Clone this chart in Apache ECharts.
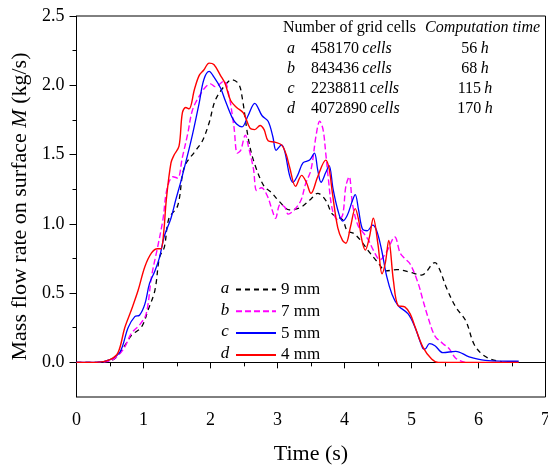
<!DOCTYPE html>
<html>
<head>
<meta charset="utf-8">
<script src="https://cdn.jsdelivr.net/npm/echarts@6/dist/echarts.min.js"></script>
<style>
  html, body { margin: 0; padding: 0; background: #fff; }
  #chart { width: 548px; height: 467px; }
</style>
</head>
<body>
<div id="chart"></div>
<script>
// a - 9 mm
const timeA = [0, 0.3, 0.5, 0.6, 0.72, 0.82, 0.97, 1.07, 1.17, 1.24, 1.31, 1.38, 1.51, 1.61, 1.78, 1.88, 1.98, 2.07, 2.2, 2.32, 2.42, 2.47, 2.57, 2.66, 2.8, 2.9, 3.03, 3.18, 3.35, 3.5, 3.6, 3.72, 3.82, 3.97, 4.04, 4.14, 4.24, 4.38, 4.5, 4.62, 4.78, 4.98, 5.15, 5.35, 5.42, 5.52, 5.66, 5.81, 5.93, 6.05, 6.2, 6.35];
const flowA = [0, 0, 0.01, 0.04, 0.12, 0.195, 0.255, 0.38, 0.52, 0.76, 0.83, 1.04, 1.13, 1.41, 1.53, 1.60, 1.73, 1.89, 1.99, 2.04, 2.01, 1.92, 1.60, 1.43, 1.27, 1.23, 1.16, 1.10, 1.12, 1.18, 1.22, 1.17, 1.07, 1.03, 0.95, 0.93, 0.88, 0.79, 0.72, 0.66, 0.67, 0.65, 0.63, 0.72, 0.67, 0.54, 0.40, 0.30, 0.135, 0.06, 0.02, 0.005];

// b - 7 mm
const timeB = [0, 0.3, 0.5, 0.6, 0.72, 0.82, 0.94, 1.04, 1.12, 1.21, 1.29, 1.35, 1.44, 1.51, 1.58, 1.66, 1.73, 1.83, 1.93, 2.0, 2.07, 2.2, 2.27, 2.35, 2.4, 2.45, 2.52, 2.57, 2.64, 2.69, 2.76, 2.84, 2.92, 2.97, 3.04, 3.11, 3.16, 3.25, 3.35, 3.42, 3.5, 3.58, 3.63, 3.68, 3.72, 3.76, 3.82, 3.9, 3.97, 4.02, 4.07, 4.12, 4.2, 4.29, 4.36, 4.43, 4.53, 4.63, 4.75, 4.83, 4.9, 4.98, 5.1, 5.17, 5.25, 5.35, 5.47, 5.56, 5.66, 5.8];
const flowB = [0, 0, 0.01, 0.04, 0.11, 0.21, 0.27, 0.35, 0.62, 0.83, 1.03, 1.25, 1.34, 1.33, 1.48, 1.65, 1.82, 1.92, 1.99, 2.01, 1.99, 2.03, 1.94, 1.70, 1.51, 1.53, 1.64, 1.55, 1.40, 1.24, 1.26, 1.21, 1.10, 1.04, 1.14, 1.12, 1.07, 1.10, 1.17, 1.29, 1.39, 1.65, 1.74, 1.68, 1.51, 1.32, 1.10, 1.03, 1.06, 1.27, 1.34, 1.14, 0.99, 0.93, 0.88, 0.81, 0.74, 0.80, 0.905, 0.79, 0.75, 0.71, 0.57, 0.45, 0.32, 0.19, 0.135, 0.10, 0.03, 0.0];

// c - 5 mm
const timeC = [0, 0.3, 0.5, 0.65, 0.77, 0.87, 0.94, 1.02, 1.09, 1.17, 1.24, 1.31, 1.41, 1.48, 1.56, 1.71, 1.83, 1.9, 1.98, 2.05, 2.15, 2.22, 2.32, 2.39, 2.47, 2.56, 2.66, 2.77, 2.86, 2.93, 2.98, 3.06, 3.11, 3.18, 3.23, 3.3, 3.38, 3.48, 3.55, 3.6, 3.65, 3.72, 3.77, 3.83, 3.9, 3.97, 4.04, 4.12, 4.16, 4.21, 4.27, 4.34, 4.42, 4.48, 4.55, 4.63, 4.71, 4.8, 4.95, 5.05, 5.17, 5.2, 5.27, 5.35, 5.47, 5.66, 5.86, 6.1, 6.6];
const flowC = [0, 0, 0.02, 0.075, 0.25, 0.33, 0.34, 0.42, 0.57, 0.66, 0.76, 0.91, 1.04, 1.17, 1.31, 1.60, 1.87, 2.04, 2.10, 2.06, 1.98, 1.89, 1.77, 1.72, 1.70, 1.78, 1.87, 1.78, 1.74, 1.63, 1.53, 1.57, 1.52, 1.35, 1.30, 1.35, 1.44, 1.46, 1.51, 1.39, 1.30, 1.37, 1.42, 1.25, 1.10, 1.02, 1.06, 1.17, 1.21, 1.10, 0.96, 0.95, 0.99, 0.95, 0.82, 0.62, 0.49, 0.41, 0.35, 0.255, 0.10, 0.095, 0.135, 0.12, 0.07, 0.08, 0.04, 0.015, 0.008];

// d - 4 mm
const timeD = [0, 0.3, 0.5, 0.62, 0.72, 0.82, 0.92, 1.02, 1.12, 1.21, 1.26, 1.30, 1.34, 1.41, 1.46, 1.53, 1.58, 1.63, 1.68, 1.76, 1.83, 1.9, 1.98, 2.05, 2.15, 2.22, 2.3, 2.39, 2.49, 2.59, 2.66, 2.74, 2.8, 2.86, 2.96, 3.06, 3.13, 3.18, 3.27, 3.36, 3.43, 3.5, 3.6, 3.72, 3.77, 3.82, 3.9, 3.97, 4.02, 4.09, 4.16, 4.21, 4.26, 4.31, 4.37, 4.43, 4.5, 4.56, 4.61, 4.66, 4.73, 4.8, 4.9, 4.98, 5.05, 5.17, 5.3, 5.4, 6.6];
const flowD = [0, 0, 0.02, 0.07, 0.25, 0.38, 0.52, 0.69, 0.79, 0.82, 0.82, 0.93, 1.17, 1.44, 1.50, 1.56, 1.80, 1.84, 1.83, 1.97, 2.07, 2.11, 2.16, 2.15, 2.07, 2.01, 1.89, 1.84, 1.80, 1.69, 1.68, 1.71, 1.68, 1.60, 1.59, 1.57, 1.50, 1.41, 1.27, 1.35, 1.30, 1.22, 1.34, 1.46, 1.40, 1.22, 0.97, 0.88, 0.86, 0.98, 1.11, 1.03, 0.88, 0.81, 0.90, 1.04, 0.85, 0.64, 0.72, 0.88, 0.59, 0.41, 0.40, 0.35, 0.26, 0.11, 0.025, 0.0, 0.0];

// legend / table text
const caseLetters = ['a', 'b', 'c', 'd'];
const gridSizes = ['9 mm', '7 mm', '5 mm', '4 mm'];
const gridCells = ['458170', '843436', '2238811', '4072890'];
const compHours = ['56', '68', '115', '170'];

const yLabelValues = [0, 0.5, 1.0, 1.5, 2.0, 2.5];
const yMinorValues = [0.25, 0.75, 1.25, 1.75, 2.25];

const serif = 'Liberation Serif';

let chart = echarts.init(document.getElementById('chart'));

const pairs = (ts, vs) => ts.map((t, i) => [t, vs[i]]);

const lineStyles = [
    { color: '#000000', width: 1.3, type: [5, 4] },
    { color: '#ff00ff', width: 1.4, type: [6, 3] },
    { color: '#0000ff', width: 1.3, type: 'solid' },
    { color: '#ff0000', width: 1.4, type: 'solid' }
];
const seriesData = [pairs(timeA, flowA), pairs(timeB, flowB), pairs(timeC, flowC), pairs(timeD, flowD)];

const richText = {
    n: { fontFamily: serif, fontSize: 16, fill: '#000' },
    i: { fontFamily: serif, fontSize: 16, fontStyle: 'italic', fill: '#000' }
};

// Table on top right + letters in front of legend
let graphics = [];
graphics.push({
    type: 'text', x: 283, y: 28,
    style: { text: 'Number of grid cells', font: '16px "' + serif + '"', fill: '#000', verticalAlign: 'middle' }
});
graphics.push({
    type: 'text', x: 425, y: 28,
    style: { text: 'Computation time', font: 'italic 16px "' + serif + '"', fill: '#000', verticalAlign: 'middle' }
});
caseLetters.forEach((l, i) => {
    let y = 48.3 + i * 20;
    graphics.push({
        type: 'text', x: 291, y: y,
        style: { text: l, font: 'italic 16px "' + serif + '"', fill: '#000', align: 'center', verticalAlign: 'middle' }
    });
    graphics.push({
        type: 'text', x: 311, y: y,
        style: { text: '{n|' + gridCells[i] + '} {i|cells}', verticalAlign: 'middle', rich: richText }
    });
    graphics.push({
        type: 'text', x: 475, y: y,
        style: { text: '{n|' + compHours[i] + '} {i|h}', align: 'center', verticalAlign: 'middle', rich: richText }
    });
    // legend letter
    graphics.push({
        type: 'text', x: 225, y: 289 + i * 21.4,
        style: {
            text: l, font: 'italic 17px "' + serif + '"', fill: '#000',
            align: 'center', verticalAlign: 'middle'
        }
    });
});

let option = {
    animation: false,
    backgroundColor: '#fff',
    grid: {
        left: 76.5, right: 2.5, top: 16, bottom: 70,
        outerBoundsMode: 'none',
        containLabel: false,
        show: true, borderColor: '#000', borderWidth: 1
    },
    legend: {
        orient: 'vertical',
        left: 230, top: 276,
        itemWidth: 40, itemHeight: 14, itemGap: 4.8,
        data: gridSizes,
        itemStyle: { opacity: 0 },
        textStyle: { fontFamily: serif, fontSize: 17, color: '#000' }
    },
    xAxis: {
        type: 'value',
        min: 0, max: 7, interval: 1,
        name: 'Time (s)',
        nameLocation: 'middle', nameGap: 46,
        nameTextStyle: { fontFamily: serif, fontSize: 22, color: '#000' },
        axisLine: { lineStyle: { color: '#000', width: 1 } },
        axisTick: { length: 6, lineStyle: { color: '#000' } },
        minorTick: { show: true, splitNumber: 2, length: 4, lineStyle: { color: '#000' } },
        axisLabel: { fontFamily: serif, fontSize: 18, color: '#000', margin: 14 },
        splitLine: { show: false }
    },
    yAxis: [
        {
            type: 'value',
            min: -0.25, max: 2.5,
            name: 'Mass flow rate on surface {i|M} (kg/s)',
            nameLocation: 'middle', nameGap: 31,
            nameTextStyle: {
                fontFamily: serif, fontSize: 22, color: '#000',
                rich: { i: { fontFamily: serif, fontSize: 22, fontStyle: 'italic', color: '#000' } }
            },
            axisLine: { show: true, lineStyle: { color: '#000', width: 1 } },
            axisTick: { show: true, length: 7, customValues: yLabelValues, lineStyle: { color: '#000' } },
            axisLabel: {
                fontFamily: serif, fontSize: 18, color: '#000', margin: 12,
                customValues: yLabelValues,
                formatter: v => v.toFixed(1)
            },
            splitLine: { show: false }
        },
        {
            type: 'value',
            min: -0.25, max: 2.5,
            position: 'left',
            axisLine: { show: false },
            axisTick: { show: true, length: 4, customValues: yMinorValues, lineStyle: { color: '#000' } },
            axisLabel: { show: false },
            splitLine: { show: false }
        }
    ],
    series: gridSizes.map((name, i) => ({
        name: name,
        type: 'line',
        yAxisIndex: 0,
        smooth: 0.35,
        symbol: 'none',
        lineStyle: lineStyles[i],
        itemStyle: { color: lineStyles[i].color },
        data: seriesData[i]
    })),
    graphic: graphics
};

chart.setOption(option);
</script>
</body>
</html>
